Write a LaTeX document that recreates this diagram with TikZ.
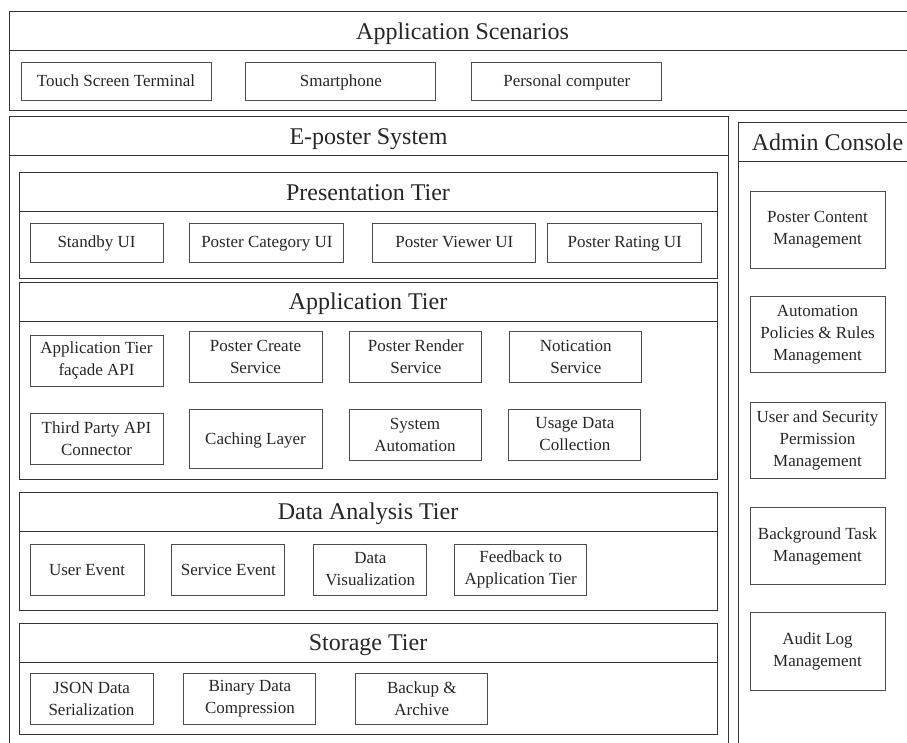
\documentclass[tikz,border=0pt]{standalone}
\usepackage{fontspec}
\setmainfont{Liberation Serif}
\usetikzlibrary{positioning}

\begin{document}
\begin{tikzpicture}[
    x=1pt, y=-1pt,
    node distance=0pt,
    head/.style={
        rectangle,
        draw=black!80,
        line width=1pt,
        outer sep=0pt,
        anchor=north west,
        minimum height=39pt,
        text height=16pt,
        text depth=0pt,
        text=black!85,
        font=\fontsize{24}{28}\selectfont
    },
    body/.style={
        rectangle,
        draw=black!80,
        line width=1pt,
        outer sep=0pt
    },
    box/.style={
        rectangle,
        draw=black!70,
        line width=0.9pt,
        inner sep=1pt,
        text=black!85,
        font=\fontsize{17}{22}\selectfont
    },
    part/.style={box, text height=11pt, text depth=0pt},
    stack/.style={box, align=center}
]
    \clip (0,0) rectangle (907,743);

    % 1. Application Scenarios (Top)
    \node (scen) [head, minimum width=907pt] at (9,12) {Application Scenarios};
    \node (scenbody) [body, minimum width=907pt, minimum height=60pt, below=of scen] {};
    \node (touch) [part, minimum width=190pt, minimum height=38pt] at (116,81) {Touch Screen Terminal};
    \node (phone) [part, minimum width=190pt, minimum height=38pt, right=34pt of touch] {Smartphone};
    \node (pc) [part, minimum width=190pt, minimum height=38pt, right=35pt of phone] {Personal computer};

    % 2. E-poster System (Left)
    \node (epos) [head, minimum width=719pt] at (9,117) {E-poster System};
    \node (eposbody) [body, minimum width=719pt, minimum height=620pt, below=of epos] {};

    % 2a. Presentation Tier
    \node (pres) [head, minimum width=698pt] at (19,173) {Presentation Tier};
    \node (presbody) [body, minimum width=698pt, minimum height=66pt, below=of pres] {};
    \node (standby) [part, minimum width=133pt, minimum height=39pt] at (96.5,242.5) {Standby UI};
    \node (category) [part, minimum width=154pt, minimum height=39pt, right=26pt of standby] {Poster Category UI};
    \node (viewer) [part, minimum width=163pt, minimum height=39pt, right=28pt of category] {Poster Viewer UI};
    \node (rating) [part, minimum width=154pt, minimum height=39pt, right=11pt of viewer] {Poster Rating UI};

    % 2b. Application Tier
    \node (app) [head, minimum width=698pt] at (19,282) {Application Tier};
    \node (appbody) [body, minimum width=698pt, minimum height=158pt, below=of app] {};
    \node (facade) [stack, minimum width=133pt, minimum height=51pt] at (96.5,360.5) {Application Tier\\façade API};
    \node (create) [stack, minimum width=133pt, minimum height=51pt] at (255.5,356.5) {Poster Create\\Service};
    \node (render) [stack, minimum width=132pt, minimum height=51pt, right=27pt of create] {Poster Render\\Service};
    \node (notice) [stack, minimum width=132pt, minimum height=51pt, right=27pt of render] {Notication\\Service};
    \node (third) [stack, minimum width=133pt, minimum height=51pt] at (96.5,438.5) {Third Party API\\Connector};
    \node (caching) [part, minimum width=133pt, minimum height=59pt] at (255.5,438.5) {Caching Layer};
    \node (sysauto) [stack, minimum width=132pt, minimum height=51pt] at (415,434.5) {System\\Automation};
    \node (usage) [stack, minimum width=132pt, minimum height=51pt, right=27pt of sysauto] {Usage Data\\Collection};

    % 2c. Data Analysis Tier
    \node (ana) [head, minimum width=698pt] at (19,492) {Data Analysis Tier};
    \node (anabody) [body, minimum width=698pt, minimum height=79pt, below=of ana] {};
    \node (userev) [part, minimum width=114pt, minimum height=51pt] at (87,569.5) {User Event};
    \node (servev) [part, minimum width=113pt, minimum height=51pt, right=27pt of userev] {Service Event};
    \node (dataviz) [stack, minimum width=113pt, minimum height=51pt, right=28pt of servev] {Data\\Visualization};
    \node (feedback) [stack, minimum width=132pt, minimum height=51pt, right=27pt of dataviz] {Feedback to\\Application Tier};

    % 2d. Storage Tier
    \node (sto) [head, minimum width=698pt] at (19,623) {Storage Tier};
    \node (stobody) [body, minimum width=698pt, minimum height=72pt, below=of sto] {};
    \node (json) [stack, minimum width=123pt, minimum height=51pt] at (91.5,698.5) {JSON Data\\Serialization};
    \node (binary) [stack, minimum width=132pt, minimum height=51pt, right=30pt of json] {Binary Data\\Compression};
    \node (backup) [stack, minimum width=132pt, minimum height=51pt, right=39pt of binary] {Backup \&\\Archive};

    % 3. Admin Console (Right)
    \node (admin) [head, minimum width=179pt] at (738,123) {Admin Console};
    \node (adminbody) [body, minimum width=179pt, minimum height=620pt, below=of admin] {};
    \node (content) [stack, minimum width=135pt, minimum height=77pt] at (817.5,229.5) {Poster Content\\Management};
    \node (policy) [stack, minimum width=135pt, minimum height=76pt, below=28pt of content] {Automation\\Policies \& Rules\\Management};
    \node (security) [stack, minimum width=135pt, minimum height=76pt, below=29pt of policy] {User and Security\\Permission\\Management};
    \node (bgtask) [stack, minimum width=135pt, minimum height=77pt, below=28pt of security] {Background Task\\Management};
    \node (audit) [stack, minimum width=135pt, minimum height=78pt, below=27pt of bgtask] {Audit Log\\Management};

\end{tikzpicture}
\end{document}
